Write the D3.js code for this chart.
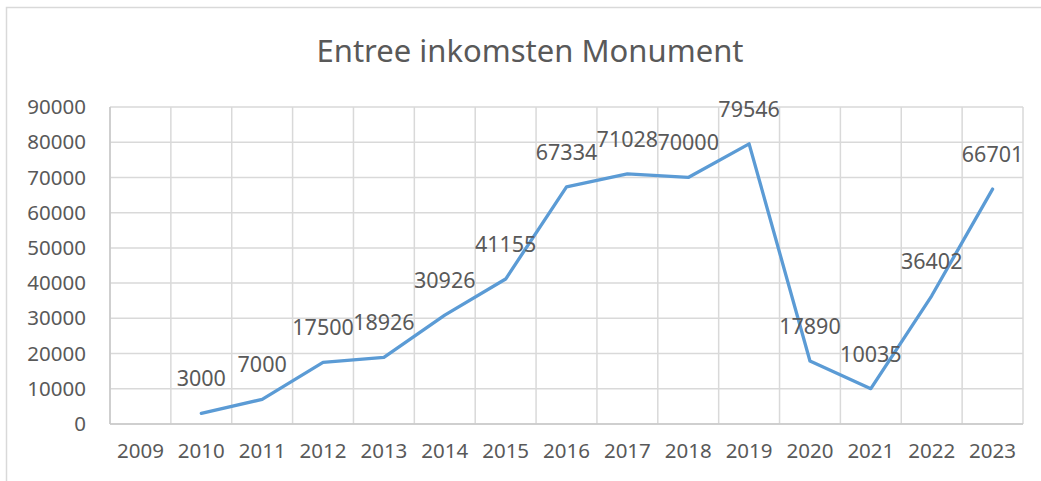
<!DOCTYPE html>
<html>
<head>
<meta charset="utf-8">
<script src="https://cdn.jsdelivr.net/npm/d3@7"></script>
<style>
  body { margin: 0; background: #fff; }
  text { font-family: "Noto Sans", "Liberation Sans", sans-serif; fill: #595959; }
</style>
</head>
<body>
<script>
// data
var titleText = 'Entree inkomsten Monument';
var years = ['2009', '2010', '2011', '2012', '2013', '2014', '2015', '2016',
             '2017', '2018', '2019', '2020', '2021', '2022', '2023'];
var valueYears = ['2010', '2011', '2012', '2013', '2014', '2015', '2016',
                  '2017', '2018', '2019', '2020', '2021', '2022', '2023'];
var values = [3000, 7000, 17500, 18926, 30926, 41155, 67334,
              71028, 70000, 79546, 17890, 10035, 36402, 66701];
var yTicks = [0, 10000, 20000, 30000, 40000, 50000, 60000, 70000, 80000, 90000];

var width = 1041, height = 481;
var margin = {left: 110, right: 1023, top: 107, bottom: 424};

var svg = d3.select('body').append('svg')
  .attr('width', width)
  .attr('height', height);

// chart border
svg.append('rect')
  .attr('x', 6.5).attr('y', 7.5)
  .attr('width', 1050).attr('height', 500)
  .attr('fill', 'none')
  .attr('stroke', '#d9d9d9')
  .attr('stroke-width', 1.5);

var x = d3.scaleBand()
  .domain(years)
  .range([margin.left, margin.right]);

var y = d3.scaleLinear()
  .domain([0, 90000])
  .range([margin.bottom, margin.top]);

// horizontal grid
svg.append('g').selectAll('line')
  .data(yTicks)
  .enter().append('line')
  .attr('x1', margin.left).attr('x2', margin.right)
  .attr('y1', d => y(d)).attr('y2', d => y(d))
  .attr('stroke', '#d9d9d9')
  .attr('stroke-width', 1.5);

// vertical grid (category boundaries)
var bounds = years.map(d => x(d)).concat([margin.right]);
svg.append('g').selectAll('line')
  .data(bounds)
  .enter().append('line')
  .attr('x1', d => d).attr('x2', d => d)
  .attr('y1', margin.top).attr('y2', margin.bottom)
  .attr('stroke', '#d9d9d9')
  .attr('stroke-width', 1.5);

// axis lines
svg.append('line')
  .attr('x1', margin.left).attr('x2', margin.left)
  .attr('y1', margin.top).attr('y2', margin.bottom)
  .attr('stroke', '#c8c8c8').attr('stroke-width', 1.5);
svg.append('line')
  .attr('x1', margin.left).attr('x2', margin.right)
  .attr('y1', margin.bottom).attr('y2', margin.bottom)
  .attr('stroke', '#c8c8c8').attr('stroke-width', 1.5);

// y axis labels
var yAxis = d3.axisLeft(y).tickValues(yTicks).tickSize(0).tickPadding(24)
  .tickFormat(d3.format('d'));
var gy = svg.append('g')
  .attr('transform', 'translate(' + margin.left + ',0)')
  .call(yAxis);
gy.select('.domain').remove();
gy.selectAll('text').style('font-size', '20.5px').attr('fill', '#595959')
  .style('font-family', '"Noto Sans", sans-serif');

// x axis labels
var xAxis = d3.axisBottom(x).tickSize(0).tickPadding(19);
var gx = svg.append('g')
  .attr('transform', 'translate(0,' + margin.bottom + ')')
  .call(xAxis);
gx.select('.domain').remove();
gx.selectAll('text').style('font-size', '20.5px').attr('fill', '#595959')
  .style('font-family', '"Noto Sans", sans-serif');

// line
var points = valueYears.map((yr, i) => ({year: yr, value: values[i]}));
var line = d3.line()
  .x(d => x(d.year) + x.bandwidth() / 2)
  .y(d => y(d.value));

svg.append('path')
  .datum(points)
  .attr('d', line)
  .attr('fill', 'none')
  .attr('stroke', '#5b9bd5')
  .attr('stroke-width', 3.3)
  .attr('stroke-linejoin', 'round')
  .attr('stroke-linecap', 'round');

// data labels
svg.append('g').selectAll('text')
  .data(points)
  .enter().append('text')
  .attr('x', d => x(d.year) + x.bandwidth() / 2)
  .attr('y', d => y(d.value) - 27)
  .attr('text-anchor', 'middle')
  .style('font-size', '21.5px')
  .text(d => d.value);

// title
svg.append('text')
  .attr('x', 530)
  .attr('y', 62)
  .attr('text-anchor', 'middle')
  .style('font-size', '31px')
  .text(titleText);
</script>
</body>
</html>
